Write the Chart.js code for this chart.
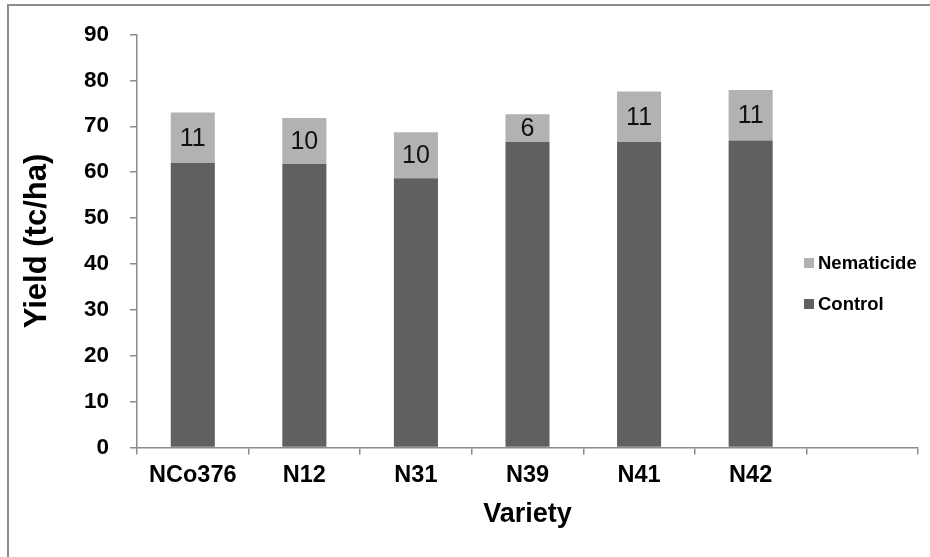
<!DOCTYPE html>
<html>
<head>
<meta charset="utf-8">
<script src="https://cdn.jsdelivr.net/npm/chart.js@4.4.1/dist/chart.umd.min.js"></script>
<style>
  html, body { margin: 0; padding: 0; background: #fff; overflow: hidden; }
  #wrap { position: relative; width: 930px; height: 557px; }
  #frame { position: absolute; left: 7px; top: 4px; width: 1000px; height: 700px;
           border-left: 2px solid #8c8c8c; border-top: 2px solid #8c8c8c; }
  canvas { position: absolute; left: 0; top: 0; }
</style>
</head>
<body>
<div id="wrap">
  <div id="frame"></div>
  <canvas id="chart" width="930" height="557"></canvas>
</div>
<script>
// Sugarcane yield per variety: untreated control plus the extra gain from nematicide
const varieties = ['NCo376', 'N12', 'N31', 'N39', 'N41', 'N42', ''];
const controlYield = [62.0, 61.8, 58.7, 66.6, 66.6, 66.9, null];
const nematicideGain = [11, 10, 10, 6, 11, 11, null];
const yTicks = [0, 10, 20, 30, 40, 50, 60, 70, 80, 90];

const FONT = "'Liberation Sans', Arial, sans-serif";
const AXIS_GREY = '#8c8c8c';
const PAD_LEFT = 19;

// Value labels centred inside the nematicide segments
const segmentLabels = {
  id: 'segmentLabels',
  afterDatasetsDraw(chart) {
    const ctx = chart.ctx;
    const meta = chart.getDatasetMeta(1);
    const values = chart.data.datasets[1].data;
    ctx.save();
    ctx.font = '25px ' + FONT;
    ctx.fillStyle = '#111';
    ctx.textAlign = 'center';
    ctx.textBaseline = 'middle';
    meta.data.forEach((bar, i) => {
      if (values[i] == null) return;
      const { x, y, base } = bar.getProps(['x', 'y', 'base'], true);
      ctx.fillText(String(values[i]), x, (y + base) / 2 + 1);
    });
    ctx.restore();
  }
};

// Legend stacked on the right, top series first
const sideLegend = {
  id: 'sideLegend',
  afterDraw(chart) {
    const ctx = chart.ctx;
    const items = chart.data.datasets.slice().reverse();
    ctx.save();
    ctx.font = 'bold 18.5px ' + FONT;
    ctx.textBaseline = 'middle';
    ctx.textAlign = 'left';
    items.forEach((ds, i) => {
      const cy = 263 + i * 41;
      ctx.fillStyle = ds.backgroundColor;
      ctx.fillRect(804, cy - 5, 10, 10);
      ctx.fillStyle = '#000';
      ctx.fillText(ds.label, 818, cy + 1);
    });
    ctx.restore();
  }
};

new Chart(document.getElementById('chart'), {
  type: 'bar',
  data: {
    labels: varieties,
    datasets: [
      { label: 'Control', data: controlYield, backgroundColor: '#606060',
        categoryPercentage: 1, barPercentage: 0.395 },
      { label: 'Nematicide', data: nematicideGain, backgroundColor: '#b2b2b2',
        categoryPercentage: 1, barPercentage: 0.395 }
    ]
  },
  options: {
    responsive: false,
    animation: false,
    layout: { padding: { left: PAD_LEFT, right: 12, top: 26, bottom: 26 } },
    plugins: { legend: { display: false }, tooltip: { enabled: false } },
    scales: {
      x: {
        stacked: true,
        afterFit(scale) { scale.height = 557 - 26 - 447.5; },
        grid: { display: true, drawOnChartArea: false, drawTicks: true, offset: true,
                tickLength: 7, tickColor: AXIS_GREY, lineWidth: 1.5 },
        border: { display: true, color: AXIS_GREY, width: 1.5 },
        ticks: { color: '#000', padding: 7, maxRotation: 0,
                 font: { family: FONT, size: 23.5, weight: 'bold' } },
        title: { display: true, text: 'Variety', color: '#000',
                 padding: { top: 0, bottom: 0 },
                 font: { family: FONT, size: 27, weight: 'bold' } }
      },
      y: {
        stacked: true,
        min: 0, max: 90,
        afterFit(scale) { scale.width = 137 - PAD_LEFT; },
        afterBuildTicks(scale) { scale.ticks = yTicks.map(v => ({ value: v })); },
        grid: { display: true, drawOnChartArea: false, drawTicks: true,
                tickLength: 7, tickColor: AXIS_GREY, lineWidth: 1.5 },
        border: { display: true, color: AXIS_GREY, width: 1.5 },
        ticks: { color: '#000', padding: 21,
                 font: { family: FONT, size: 22.5, weight: 'bold' } },
        title: { display: true, text: 'Yield (tc/ha)', color: '#000',
                 padding: { top: 0, bottom: 0 },
                 font: { family: FONT, size: 31, weight: 'bold' } }
      }
    }
  },
  plugins: [segmentLabels, sideLegend]
});
</script>
</body>
</html>
